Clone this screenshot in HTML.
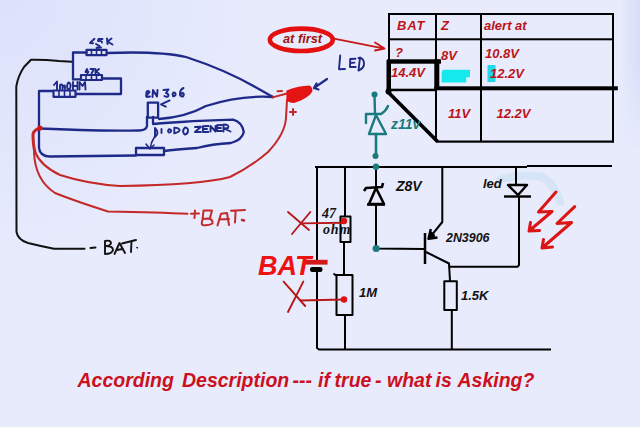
<!DOCTYPE html>
<html><head><meta charset="utf-8">
<style>
html,body{margin:0;padding:0;width:640px;height:427px;overflow:hidden;background:#e4e8fc;}
svg{display:block;}
text{font-family:"Liberation Sans",sans-serif;}
.rt{fill:#bc1418;font-weight:bold;font-style:italic;font-size:13px;}
.bt{fill:#111;font-weight:bold;font-style:italic;font-size:13px;}
</style></head>
<body>
<svg width="640" height="427" viewBox="0 0 640 427">
<defs>
<radialGradient id="bg" cx="0" cy="0" r="260" gradientUnits="userSpaceOnUse">
<stop offset="0" stop-color="#dde1fb"/>
<stop offset="1" stop-color="#e7ebfc"/>
</radialGradient>
<linearGradient id="rg" x1="0" y1="0" x2="1" y2="0">
<stop offset="0" stop-color="#d6def8" stop-opacity="0"/>
<stop offset="1" stop-color="#d6def8" stop-opacity="1"/>
</linearGradient>
<linearGradient id="rgm" x1="0" y1="0" x2="0" y2="1">
<stop offset="0.4" stop-color="#fff"/>
<stop offset="1" stop-color="#000"/>
</linearGradient>
<mask id="rm"><rect x="600" y="0" width="40" height="150" fill="url(#rgm)"/></mask>
</defs>
<rect width="640" height="427" fill="url(#bg)"/>
<rect x="620" y="0" width="20" height="150" fill="url(#rg)" mask="url(#rm)"/>

<!-- ===== LEFT HAND-DRAWN CIRCUIT ===== -->
<g fill="none" stroke="#111" stroke-width="2" stroke-linecap="round" stroke-linejoin="round">
<path d="M72,61.8 L59,61 Q45,59.5 31,59.7 L24,67 Q18,76 16.3,86.4 L16.5,232 Q18,240 28,243 Q42,246.5 54,248.7 L84.5,248.7"/>
<path d="M90.5,248 L95.5,247.5"/>
<!-- BAT. -->
<g stroke-width="1.9">
<path d="M105,241 L105,254 M105,241 Q111,239.5 111,243.5 Q110,246 106,246 Q113,246 113,250 Q112,254 105,254"/>
<path d="M114.5,254 L119.5,243 L125,253 M116.5,250 L123,249"/>
<path d="M122,243.5 L136,240 M131.5,241 L131,252"/>
<path d="M137,247.5 L137.3,247.8" stroke-width="1.6"/>
</g>
</g>

<g fill="none" stroke="#1f2a88" stroke-width="2.3" stroke-linecap="round" stroke-linejoin="round">
<!-- 1.5K -->
<rect x="86.5" y="49.8" width="20" height="5.4" stroke-width="2.2"/>
<path d="M91.5,50 V55 M96.5,50 V55 M101.5,50 V55" stroke-width="1.6"/>
<path d="M73,79.3 L73,52.5 L86.5,52.5"/>
<path d="M107,53 Q160,51 186,57 Q226,70 257,88 L273,97"/>
<!-- 47K -->
<rect x="81" y="75" width="21" height="5" stroke-width="2.2"/>
<path d="M86,75 V80 M91.5,75 V80 M96.5,75 V80" stroke-width="1.6"/>
<path d="M73,79.3 L81,79.3 M102,78.5 L121,78.5 L121,94 L76,94"/>
<!-- 1mOHM -->
<rect x="53.5" y="90.5" width="22" height="6.3" stroke-width="2.2"/>
<path d="M59,90.5 V96.8 M64.5,90.5 V96.8 M70,90.5 V96.8" stroke-width="1.6"/>
<path d="M53,91 L39,91 L39,148 Q40,156.5 50,156.5 L136,155.5"/>
<!-- zener rect -->
<rect x="136" y="148" width="28" height="7"/>
<path d="M164,151 Q175,149.5 197,148 Q212,144 231,143 Q242,140 243.8,132 Q242,122 233,119.7 Q205,120.5 181,122 Q163,123 153,124 L153,117"/>
<!-- box -->
<rect x="147.8" y="102.6" width="10.3" height="15"/>
<path d="M147,117 L147,126 Q146,130.5 139,130.5 Q110,131 80,130 L40,128.5"/>
<path d="M159,119 Q186,117 206,106 Q240,95 273,97"/>
<!-- 2N3906 label hand -->
<g stroke-width="2">
<path d="M146,96 Q149,92.5 149.5,92 Q148,90 146.5,92 Q146,96 147,97 L150,96.5"/>
<path d="M152.5,97 L153,90 L157,96.5 L157.5,90"/>
<path d="M163.5,90 L168.5,89.5 L166,93 Q169.5,94 168,96.5 Q166,97 164.5,96"/>
<path d="M173.5,92.5 Q176,92.5 175.5,95 Q174.5,96.5 173,96 Q172,94 173.5,92.5"/>
<path d="M183.5,88 Q179.5,90 180,95 Q181,97 183,96.5 Q184.5,94.5 183,93 Q181,93 180.5,95"/>
</g>
<path d="M169.7,100.4 L161,104.3 L165.8,106.7" stroke-width="1.9"/>
<!-- DIODO ZENER hand -->
<g stroke-width="1.9">
<path d="M155,128 L155,137 Q160,133 155,128"/>
<path d="M161.5,129 L161.5,133"/>
<path d="M169,129.2 Q171.3,129.5 171.2,131 Q171,132.6 169,132.5 Q167,131 169,129.2"/>
<path d="M174.3,127.6 L174.3,133.4 Q180.5,131.5 179.5,129.5 Q178,127.5 174.3,127.6"/>
<path d="M185,127.5 Q188.5,128 188,131 Q187.5,134.5 184.5,134.5 Q181.5,131 185,127.5"/>
<path d="M195,127 L201,126.7 L195,132 L201,132"/>
<path d="M208.5,126 L203,126.3 L203,132 L208.5,132 M203,129 L207,129"/>
<path d="M210.5,131.5 L210.5,126 L215.5,131.5 L215.5,126"/>
<path d="M222,125 L217,125.3 L217,131 L222,131 M217,128 L221,128"/>
<path d="M223.5,131.5 L223.5,124.5 Q230,124.5 228,128 L224,128.5 L230.5,131.5"/>
</g>
<path d="M155,136 Q151,142 150,149 M146,144 L150,149 L154,145" stroke-width="1.6"/>
<!-- labels -->
<g stroke-width="1.9">
<path d="M90.5,42.5 L94.5,38.8 M90,43 L93,43.2"/>
<path d="M96,44 L99.5,46 L96.5,48 L101,47.5"/>
<path d="M102.5,39 L98.5,39 L98,41 Q102,40.5 102,42.5"/>
<path d="M107,38.5 L107.5,44 M111.5,38.5 L107.5,41.5 L112.5,44.5"/>
<path d="M87,69 L85.5,72 L88.5,72 M87.5,70 L87.5,73.5"/>
<path d="M90.5,69 L94,69 L91.5,73.5"/>
<path d="M95.5,69 L95.5,73.5 M99,69 L96,71.5 L99,73.5"/>
<path d="M54,85 L57,81.5 L57,89.5"/>
<path d="M60,89 L60,85 Q62,83.5 62.5,86 L62.5,89 Q63.5,84 65,86 L65,89"/>
<path d="M68.3,82.5 Q70.8,83 70.6,86 Q70.3,89.5 68,89.3 Q66,86 68.3,82.5"/>
<path d="M73,82 L73,89.5 M77.5,82 L77.5,89.5 M73,86 L77.5,86"/>
<path d="M79.5,89.5 L79.5,82 L82.5,86 L85,82 L85.5,89.5"/>
</g>
<!-- LED label -->
<g stroke-width="1.9">
<path d="M340.2,55.5 L339,69.2 L345,69"/>
<path d="M355.5,58.8 L350.2,59 L350,67 L355.7,67 M350.2,63 L354.5,62.6"/>
<path d="M360,57.5 L358.5,70.5 Q364.5,68 364,63 Q363.5,57.5 358.5,58"/>
</g>
<!-- arrow to LED -->
<path d="M327,79 L314,88 M316.5,83.5 L314,88 L318.5,89.5" stroke-width="2.2"/>
</g>

<!-- red wires -->
<g fill="none" stroke="#c42828" stroke-width="2" stroke-linecap="round" stroke-linejoin="round">
<path d="M287,100 L286,118 Q285,134 268,152 Q252,166 230,177 Q200,185 120,186 Q88,184 60,175 Q41,166 35,152"/>
<path d="M35,152 Q33,145 33,134 Q34,130 40,128" stroke-width="3"/>
<path d="M34,152 Q35,180 55,193 Q75,201 108,211.5 Q160,212.5 187.5,213.8"/>
<path d="M272.5,97.4 L287,93.5"/>
<path d="M277.5,91.3 L282,91"/>
<path d="M290,112 L296,112 M293,109 L293,115"/>
<!-- +BAT. -->
<g stroke-width="2" stroke="#c42a2a">
<path d="M191,213.8 L199,213.5 M195,210.5 L194.5,218"/>
<path d="M203.5,210.5 L212,210.5 L210,218 M203.5,210.5 L202.5,220 Q201,224 202.5,225 Q208,226 212.5,223.5 Q213,219 208,218.5 L202.5,219"/>
<path d="M217.5,225.5 L221,213.8 L227,213 L229,225 M219,219.5 L229,219"/>
<path d="M231,210.7 L245,210 M235.6,211 L235,222.5"/>
<path d="M242,220 L244,220.5" stroke-width="2.6"/>
</g>
</g>
<circle cx="40" cy="128" r="2.6" fill="#d01818"/>
<!-- LED blob -->
<path d="M286.5,90.5 Q296,86.5 304,86 L309.5,85.6 Q313,87.5 312.3,91.5 Q310,96 301,100.5 L294,103 Q288,102.5 286.3,100 Z" fill="#e41414"/>

<!-- at first ellipse -->
<ellipse cx="301.3" cy="39.8" rx="31.5" ry="11.2" fill="none" stroke="#e41010" stroke-width="4.6"/>
<text x="283" y="42.6" class="rt" style="fill:#a01414;font-size:12.8px">at first</text>
<path d="M334,38.6 L384.5,48.6 M375,42.5 L384.5,48.6 L375,50.5" fill="none" stroke="#c81818" stroke-width="1.8" stroke-linejoin="round" stroke-linecap="round"/>

<!-- ===== TABLE ===== -->
<g fill="#000">
<rect x="388" y="13" width="226" height="2"/>
<rect x="388" y="13" width="2" height="50"/>
<rect x="612" y="13" width="2" height="129.5"/>
<rect x="388" y="38.3" width="224" height="2"/>
<rect x="435" y="13" width="2" height="128"/>
<rect x="480" y="13" width="2" height="128"/>
<rect x="387" y="59.3" width="54" height="4.4"/>
<rect x="386.5" y="60" width="4.5" height="33"/>
<rect x="434.3" y="59.3" width="5" height="30"/>
<rect x="389" y="88.7" width="47" height="2.5"/>
<rect x="434.3" y="86.3" width="183.5" height="4"/>
<circle cx="388.5" cy="91.5" r="3"/>
<rect x="436" y="140.5" width="178" height="2.2"/>
</g>
<path d="M388,92 L437.5,141.5" stroke="#000" stroke-width="3.8" fill="none"/>
<path d="M443.5,69.8 L470,69.8 L470,77.3 L466.3,77.3 L466.3,82.6 L441.6,82.6 L441.6,73.9 Q441.8,70 443.5,69.8 Z" fill="#14eaec"/>
<rect x="487.5" y="65" width="8" height="17" fill="#22d8e8"/>
<g class="rt">
<text x="397" y="30.3" style="letter-spacing:0.8px">BAT</text>
<text x="441" y="30">Z</text>
<text x="484" y="30">alert at</text>
<text x="395" y="57">?</text>
<text x="441" y="60">8V</text>
<text x="485" y="58">10.8V</text>
<text x="391" y="77">14.4V</text>
<text x="490" y="78">12.2V</text>
<text x="448" y="118">11V</text>
<text x="496.5" y="117.5">12.2V</text>
</g>

<!-- ===== TEAL ZENER ===== -->
<g fill="none" stroke="#1a7a7c" stroke-width="2.4" stroke-linecap="round" stroke-linejoin="round">
<path d="M374.5,95 L375,114"/>
<path d="M366,123 L366,114 L381,114 Q386,111 388,106"/>
<path d="M376,115 L369,134 L386,134 Z" stroke-width="2.4"/>
<path d="M376,134 L376,156" stroke-width="2.6"/>
</g>


<!-- light blue smudge -->
<path d="M500,180 Q520,173 542,177 Q555,184 560,202" fill="none" stroke="#d6e4f8" stroke-width="8" stroke-linecap="round"/>
<!-- ===== SCHEMATIC ===== -->
<g fill="none" stroke="#000" stroke-width="2" stroke-linejoin="round">
<path d="M315,167 L527,167 M527,166 L612,166"/>
<path d="M317,167 L317,260 M317,272 L317,348 L319,349.5 L551,349.5"/>
<path d="M345,167 L345,216 M344,242 L344,275 M345,315 L345,350"/>
<rect x="340.5" y="216.5" width="10" height="25.5"/>
<rect x="336.5" y="275" width="16" height="40"/>
<path d="M333.5,273.5 L336,275.5"/>
<path d="M376,167 L376,188 M376,204 L376,248.5 L424,249"/>
<!-- zener 8V -->
<path d="M364,191 L366,188 L382,187 L383,183" stroke-width="2.6"/>
<path d="M376,188 L369,204 L384,204 Z" stroke-width="2.6"/>
<path d="M367,204.5 L385,204.5" stroke-width="2.6"/>
<!-- transistor -->
<path d="M425,233 L425,264" stroke-width="2.5"/>
<path d="M442.3,167 L442.3,222 L429,238.5"/>
<path d="M430.8,229 L428.5,238.8 L437.5,237.5 M430,237 L431,232.5 L434,235.5 Z" stroke-width="2.4"/>
<path d="M426,252 L449,263.5 L450,281 M451.8,310 L451.8,350"/>
<rect x="444.3" y="281.3" width="12.5" height="28.7"/>
<!-- LED -->
<path d="M516,167 L516,185 M519,196 L519,265 L517.5,266.8 L450,266.8"/>
<path d="M508,185 L527,185 L518,195 Z" stroke-width="2.4"/>
<path d="M504,196.5 L531,196.5" stroke-width="2.4"/>
</g>
<g fill="#1a7a7c">
<circle cx="374.5" cy="94.5" r="3"/>
<circle cx="375.5" cy="156" r="3"/>
<circle cx="376" cy="166.8" r="3.2"/>
<circle cx="376.2" cy="248.5" r="3.6"/>
<text x="391" y="129" style="font-weight:bold;font-style:italic;font-size:14px">z11v</text>
</g>
<g class="bt">
<text x="322" y="218" style="font-family:'Liberation Serif',serif;font-size:14px">47</text>
<text x="323" y="234" style="font-family:'Liberation Serif',serif;font-size:14px;letter-spacing:0.8px">ohm</text>
<text x="396" y="191" style="font-size:14px">Z8V</text>
<text x="446" y="242" textLength="43.5" lengthAdjust="spacingAndGlyphs">2N3906</text>
<text x="461" y="300">1.5K</text>
<text x="359" y="297">1M</text>
<text x="483" y="188">led</text>
</g>

<!-- battery & BAT -->
<rect x="305" y="259.8" width="22.6" height="4.8" fill="#d41818"/>
<rect x="310" y="267" width="12.5" height="5" rx="2.2" fill="#000"/>
<text x="258" y="275" style="fill:#ee1111;font-weight:bold;font-style:italic;font-size:27px">BAT</text>

<!-- red X marks and lines -->
<g fill="none" stroke="#b81818" stroke-width="1.9" stroke-linecap="round">
<path d="M288,212 L309,230 M310.3,212 L292,234"/>
<path d="M301,223.4 L344,222.8"/>
<path d="M283.6,281.6 L305.2,306 M303.3,281.6 L288,312"/>
<path d="M300.5,300.5 L344,299.5"/>
</g>
<circle cx="344" cy="221" r="3.2" fill="#e01010"/>
<circle cx="344" cy="299.5" r="3.2" fill="#e01010"/>

<!-- lightning arrows -->
<g fill="none" stroke="#dc1414" stroke-width="3" stroke-linecap="round" stroke-linejoin="round">
<path d="M556,192 L538.5,212 L552,211.5 L529,231 M530.5,222.5 L529,231 L539.5,230.5"/>
<path d="M574.7,206.6 L557,223.5 L571.5,222.5 L542,248 M543.5,239.5 L542,248 L552.5,247"/>
</g>

<!-- bottom text -->
<text y="387" style="fill:#cc1020;font-weight:bold;font-style:italic;font-size:19.5px"><tspan x="77.5">According</tspan><tspan x="182">Description</tspan><tspan x="292.5">---</tspan><tspan x="318">if</tspan><tspan x="334.6">true</tspan><tspan x="375">-</tspan><tspan x="387">what</tspan><tspan x="435.6">is</tspan><tspan x="457.5">Asking?</tspan></text>
</svg>
</body></html>
